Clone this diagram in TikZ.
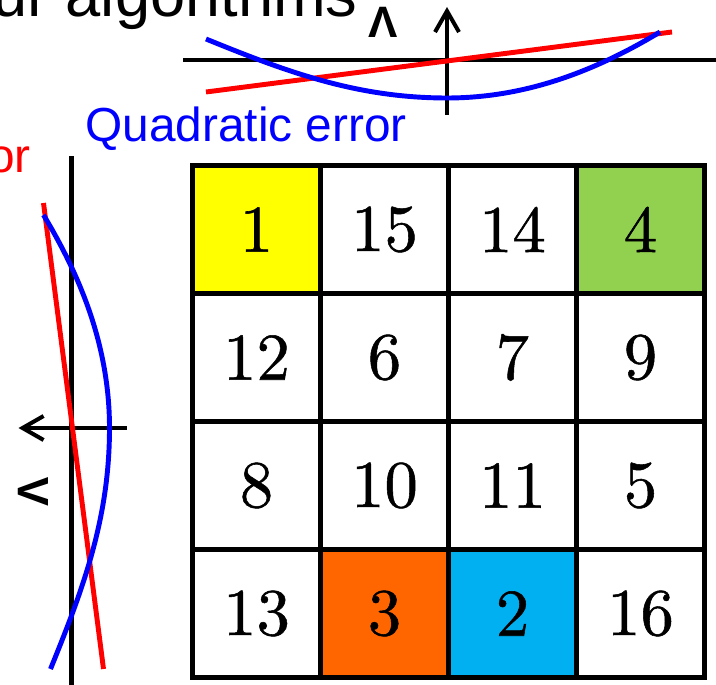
\documentclass[tikz,border=0pt]{standalone}
\usepackage{fontspec}
\setsansfont{Liberation Sans}
\newfontfamily\cellfont{lmroman10-regular.otf}[FakeBold=0.8]
\usepackage{tikz}
\usetikzlibrary{arrows.meta}
\usepackage{xcolor}
\definecolor{cellyellow}{RGB}{255,255,0}
\definecolor{cellgreen}{RGB}{146,208,80}
\definecolor{cellorange}{RGB}{255,102,0}
\definecolor{cellblue}{RGB}{0,176,240}
\definecolor{quadblue}{RGB}{0,0,255}
\definecolor{linred}{RGB}{255,0,0}

\tikzset{
  cell/.style={draw,line width=2.5pt,minimum size=2.56cm,inner sep=0pt,font=\cellfont\fontsize{38}{40}\selectfont},
  axis/.style={line width=2.3pt},
  errcurve/.style={line width=2.8pt},
  slidetext/.style={inner sep=0pt,font=\sffamily\fontsize{27.2}{30}\selectfont},
}

\begin{document}
\begin{tikzpicture}[x=0.02cm,y=-0.02cm]
  \useasboundingbox (0,0) rectangle (716,685);
  \clip (0,0) rectangle (716,685);
  % slide texts
  \node[slidetext,font=\sffamily\fontsize{36}{40}\selectfont,anchor=base east] (title) at (358,17) {ur algorithms};
  \node[slidetext,text=linred,anchor=base east] (linlabel) at (31,173) {or};
  \node[slidetext,text=quadblue,anchor=base west] (quadlabel) at (85,142) {Quadratic error};
  % the two error plots, the second one turned by 90 degrees
  \foreach \px/\py/\rot/\nm in {447/60/0/top,71.5/428/90/side}{
    \begin{scope}[shift={(\px,\py)},rotate=\rot]
      \coordinate (\nm-o) at (0,0);
      \draw[axis] (-264,0) -- (272,0);
      \draw[axis,-{Straight Barb[length=0.42cm,width=0.48cm]}] (0,55) -- (0,-53);
      \draw[errcurve,linred] (-241,32) -- (225,-28);
      \draw[errcurve,quadblue] (-241,-21) .. controls (-160,12) and (-90,38) .. (0,38)
        .. controls (80,38) and (150,10) .. (213,-28);
      \node[inner sep=0pt,transform shape,font=\sffamily\bfseries\fontsize{25}{26}\selectfont] (\nm-lambda) at (-64,-38) {Λ};
    \end{scope}
  }
  % 4x4 grid of cells
  \foreach \val/\col [count=\k from 0] in {1/cellyellow,15/white,14/white,4/cellgreen,
      12/white,6/white,7/white,9/white,8/white,10/white,11/white,5/white,
      13/white,3/cellorange,2/cellblue,16/white}{
    \pgfmathtruncatemacro\cx{mod(\k,4)}
    \pgfmathtruncatemacro\cy{div(\k,4)}
    \node[cell,fill=\col] (n\val) at ({256.5+128*\cx},{229.5+128*\cy}) {\val};
  }
\end{tikzpicture}
\end{document}
